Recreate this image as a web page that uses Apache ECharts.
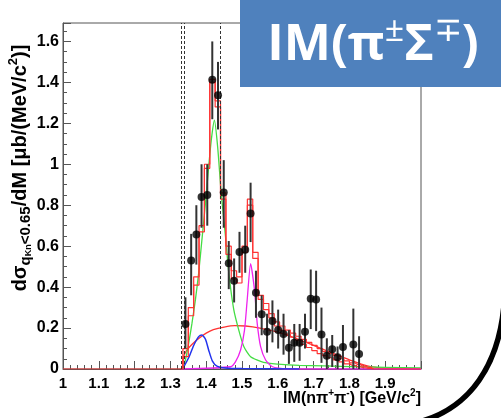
<!DOCTYPE html>
<html>
<head>
<meta charset="utf-8">
<script src="https://cdn.jsdelivr.net/npm/echarts@6/dist/echarts.min.js"></script>
<style>
html,body{margin:0;padding:0;background:#fff;}
#chart{width:501px;height:418px;}
</style>
</head>
<body>
<div id="chart"></div>
<script>
// measured points
var dataX = [1.342, 1.358, 1.3725, 1.387, 1.403, 1.417, 1.433, 1.449, 1.463, 1.478, 1.493, 1.509,
  1.524, 1.539, 1.555, 1.570, 1.585, 1.601, 1.616, 1.631, 1.646, 1.661, 1.676, 1.692, 1.707,
  1.722, 1.737, 1.752, 1.767, 1.782, 1.811, 1.827];
var dataY = [0.22, 0.53, 0.657, 0.84, 0.85, 1.413, 1.337, 0.862, 0.516, 0.431, 0.572, 0.583,
  0.759, 0.372, 0.268, 0.182, 0.234, 0.19, 0.171, 0.104, 0.128, 0.128, 0.182, 0.343, 0.340,
  0.169, 0.065, 0.096, 0.057, 0.107, 0.12, 0.073];
var errHi = [0.35, 0.66, 0.80, 1.0, 1.0, 1.60, 1.50, 1.02, 0.625, 0.54, 0.67, 0.70,
  0.91, 0.48, 0.36, 0.27, 0.335, 0.29, 0.27, 0.19, 0.22, 0.22, 0.27, 0.486, 0.48,
  0.30, 0.15, 0.166, 0.11, 0.215, 0.295, 0.16];
var errLo = [0.10, 0.36, 0.51, 0.69, 0.70, 1.22, 1.17, 0.69, 0.39, 0.325, 0.47, 0.47,
  0.62, 0.25, 0.165, 0.08, 0.13, 0.10, 0.07, 0.025, 0.035, 0.04, 0.10, 0.195, 0.185,
  0.03, 0, 0.01, 0, 0, 0, 0];

// fit histogram (15 MeV bins), band drawn as open boxes
var binWidth = 0.015;
var binCenters = [1.3425, 1.3575, 1.3725, 1.3875, 1.4025, 1.4175, 1.4325, 1.4475, 1.4625, 1.4775,
  1.4925, 1.5075, 1.5225, 1.5375, 1.5525, 1.5675, 1.5825, 1.5975, 1.6125, 1.6275, 1.6425, 1.6575,
  1.6725, 1.6875, 1.7025, 1.7175, 1.7325, 1.7475, 1.7625, 1.7775, 1.7925, 1.8075, 1.8225, 1.8375, 1.8525];
var fitHi = [0.10, 0.30, 0.45, 0.70, 1.00, 1.415, 1.31, 0.86, 0.60, 0.48, 0.45, 0.60, 0.83, 0.57,
  0.36, 0.32, 0.27, 0.23, 0.21, 0.19, 0.175, 0.16, 0.145, 0.13, 0.115, 0.10, 0.085, 0.075, 0.065,
  0.05, 0.04, 0.03, 0.022, 0.014, 0.008];
var fitLo = [0.06, 0.26, 0.41, 0.67, 0.98, 1.40, 1.28, 0.83, 0.56, 0.44, 0.42, 0.57, 0.80, 0.54,
  0.34, 0.29, 0.25, 0.21, 0.19, 0.17, 0.155, 0.14, 0.12, 0.105, 0.09, 0.075, 0.065, 0.055, 0.045,
  0.035, 0.025, 0.018, 0.012, 0.006, 0.003];

// components
var bkgCurve = [[1.333, 0], [1.337, 0.06], [1.345, 0.09], [1.36, 0.12], [1.38, 0.15], [1.40, 0.175],
  [1.42, 0.192], [1.45, 0.205], [1.48, 0.212], [1.51, 0.21], [1.55, 0.2], [1.60, 0.18], [1.65, 0.15],
  [1.70, 0.115], [1.75, 0.08], [1.80, 0.045], [1.85, 0.015], [1.90, 0.003], [1.95, 0], [2.0, 0]];
var greenCurve = [[1.334, 0], [1.342, 0.045], [1.351, 0.125], [1.36, 0.22], [1.37, 0.34], [1.379, 0.47],
  [1.388, 0.63], [1.398, 0.81], [1.407, 0.99], [1.415, 1.13], [1.423, 1.215], [1.432, 1.085],
  [1.442, 0.857], [1.454, 0.645], [1.463, 0.47], [1.477, 0.29], [1.491, 0.19], [1.505, 0.11],
  [1.524, 0.06], [1.56, 0.032], [1.60, 0.024], [1.66, 0.018], [1.80, 0.012], [1.90, 0.008], [2.0, 0.005]];
var blueCurve = [[1.334, 0], [1.351, 0.055], [1.365, 0.115], [1.379, 0.158], [1.388, 0.166],
  [1.398, 0.145], [1.407, 0.092], [1.417, 0.04], [1.43, 0.014], [1.454, 0.005], [1.50, 0.002], [1.66, 0]];
var magentaCurve = [[1.33, 0], [1.468, 0.011], [1.482, 0.036], [1.496, 0.093], [1.507, 0.19],
  [1.5145, 0.337], [1.524, 0.515], [1.535, 0.385], [1.5425, 0.223], [1.552, 0.109], [1.566, 0.044],
  [1.585, 0.011], [1.62, 0], [2.0, 0]];

var thresholds = [1.329, 1.337, 1.437];

function stepData(vals, withZeroLine) {
  var d = [];
  if (withZeroLine) d.push([1.0, 0]);
  d.push([binCenters[0] - binWidth, 0]);
  for (var i = 0; i < binCenters.length; i++) d.push([binCenters[i], vals[i]]);
  d.push([binCenters[binCenters.length - 1] + binWidth, 0]);
  if (withZeroLine) d.push([2.0, 0]);
  return d;
}

var bars = dataX.map(function (x, i) { return [x, errLo[i], errHi[i]]; });
var points = dataX.map(function (x, i) { return [x, dataY[i]]; });

var myChart = echarts.init(document.getElementById('chart'));
var font = 'Liberation Sans, Arial, sans-serif';
var slideFont = 'Open Sans, Lato, sans-serif';

var option = {
  animation: false,
  grid: { left: 63, right: 80, top: 23, bottom: 49, show: true, borderColor: '#555', borderWidth: 1 },
  xAxis: {
    type: 'value', min: 1, max: 2, interval: 0.1,
    axisLine: { show: true, lineStyle: { color: '#555', width: 1 } },
    axisTick: { inside: true, length: 8, lineStyle: { color: '#555' } },
    minorTick: { show: true, splitNumber: 5, length: 4, lineStyle: { color: '#555' } },
    splitLine: { show: false },
    axisLabel: {
      color: '#000', fontWeight: 'bold', fontSize: 15, fontFamily: font, margin: 7,
      formatter: function (v) { return v > 1.95 ? '' : String(Math.round(v * 10) / 10); }
    }
  },
  yAxis: {
    type: 'value', min: 0, max: 1.69, interval: 0.2,
    axisLine: { show: true, lineStyle: { color: '#555', width: 1 } },
    axisTick: { inside: true, length: 8, lineStyle: { color: '#555' } },
    minorTick: { show: true, splitNumber: 4, length: 4, lineStyle: { color: '#555' } },
    splitLine: { show: false },
    axisLabel: {
      color: '#000', fontWeight: 'bold', fontSize: 16, fontFamily: font, margin: 4,
      formatter: function (v) {
        var r = Math.round(v * 10) / 10;
        return Math.abs(v - r) > 1e-6 ? '' : String(r);
      }
    }
  },
  series: [
    { type: 'line', data: bkgCurve, smooth: 0.3, symbol: 'none', lineStyle: { color: '#ff3333', width: 1.3 }, z: 2 },
    { type: 'line', data: greenCurve, smooth: 0.2, symbol: 'none', lineStyle: { color: '#44dd44', width: 1.3 }, z: 2 },
    { type: 'line', data: magentaCurve, smooth: 0.2, symbol: 'none', lineStyle: { color: '#ee22ee', width: 1.3 }, z: 2 },
    { type: 'line', data: blueCurve, smooth: 0.2, symbol: 'none', lineStyle: { color: '#2233ee', width: 1.5 }, z: 3 },
    { type: 'line', data: stepData(fitHi, true), step: 'middle', symbol: 'none', lineStyle: { color: '#ff3333', width: 1.2 }, z: 4 },
    { type: 'line', data: stepData(fitLo, false), step: 'middle', symbol: 'none', lineStyle: { color: '#ff3333', width: 1.2 }, z: 4 },
    {
      type: 'custom', data: bars, z: 5,
      renderItem: function (params, api) {
        var top = api.coord([api.value(0), api.value(2)]);
        var bot = api.coord([api.value(0), api.value(1)]);
        return {
          type: 'line',
          shape: { x1: top[0], y1: top[1], x2: bot[0], y2: bot[1] },
          style: { stroke: '#333', lineWidth: 2 }
        };
      }
    },
    {
      type: 'scatter', data: points, symbol: 'circle', symbolSize: 8, itemStyle: { color: '#000' }, z: 6,
      markLine: {
        silent: true, symbol: 'none', label: { show: false },
        lineStyle: { color: '#333', type: [3, 2], width: 1 },
        data: thresholds.map(function (t) { return { xAxis: t }; })
      }
    }
  ],
  graphic: [
    {
      type: 'text', x: 20, y: 168, rotation: Math.PI / 2, z: 10,
      style: {
        text: '{m|dσ}{s|q}{ss|Kn}{s|<0.65}{m|/dM [μb/(MeV/c}{p|2}{m|)]}',
        align: 'center', verticalAlign: 'middle',
        rich: {
          m: { fontSize: 20, fontWeight: 'bold', fontFamily: font, fill: '#000', lineHeight: 27, verticalAlign: 'middle' },
          s: { fontSize: 15, fontWeight: 'bold', fontFamily: font, fill: '#000', lineHeight: 27, verticalAlign: 'bottom' },
          ss: { fontSize: 9, fontWeight: 'bold', fontFamily: font, fill: '#000', lineHeight: 27, verticalAlign: 'bottom' },
          p: { fontSize: 13, fontWeight: 'bold', fontFamily: font, fill: '#000', lineHeight: 27, verticalAlign: 'top' }
        }
      }
    },
    {
      type: 'text', x: 421, y: 399, z: 10,
      style: {
        text: '{m|IM(nπ}{p|+}{m|π}{p|-}{m|) [GeV/c}{p|2}{m|]}',
        align: 'right', verticalAlign: 'middle',
        rich: {
          m: { fontSize: 16, fontWeight: 'bold', fontFamily: font, fill: '#000', lineHeight: 22, verticalAlign: 'middle' },
          p: { fontSize: 10, fontWeight: 'bold', fontFamily: font, fill: '#000', lineHeight: 22, verticalAlign: 'top' }
        }
      }
    },
    {
      // rounded slide corner
      type: 'bezierCurve', z: 20,
      shape: { x1: 505, y1: 282, cpx1: 505, cpy1: 360, cpx2: 472, cpy2: 418, x2: 397, y2: 426 },
      style: { stroke: '#000', lineWidth: 5.5, fill: 'none' }
    },
    {
      type: 'rect', z: 30,
      shape: { x: 240, y: 0, width: 261, height: 87 },
      style: { fill: '#4f81bd' }
    },
    {
      type: 'text', x: 373, y: 46, z: 31,
      style: {
        text: '{a|IM(π}{b|±}{a|Σ}{b|∓}{a|)}',
        align: 'center', verticalAlign: 'middle',
        rich: {
          a: { fontSize: 50, fontWeight: 'bold', fontFamily: slideFont, fill: '#fff', lineHeight: 64, verticalAlign: 'middle' },
          b: { fontSize: 34, fontWeight: 'normal', fontFamily: slideFont, fill: '#fff', lineHeight: 64, verticalAlign: 'top' }
        }
      }
    }
  ]
};

myChart.setOption(option);
</script>
</body>
</html>
